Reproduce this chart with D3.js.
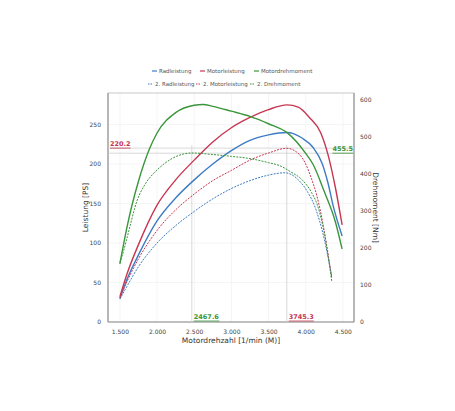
<!DOCTYPE html>
<html>
<head>
<meta charset="utf-8">
<script src="https://cdn.jsdelivr.net/npm/d3@7"></script>
<style>
  body { margin: 0; background: #fff; }
  text { font-family: "DejaVu Sans", sans-serif; }
</style>
</head>
<body>
<div class="chart"></div>
<script>
// rpm / value pairs
const radRpm   = [1500, 1600, 1750, 2000, 2250, 2500, 2750, 3000, 3250, 3500, 3750, 3950, 4100, 4220, 4300, 4370, 4490];
const radPS    = [30, 55, 85, 128, 157, 180, 200, 217, 230, 237, 240, 233, 221, 201, 176, 147, 109];
const motRpm   = [1500, 1600, 1750, 2000, 2250, 2500, 2750, 3000, 3250, 3500, 3750, 3900, 4050, 4200, 4300, 4400, 4490];
const motPS    = [32, 62, 98, 148, 180, 205, 228, 246, 259, 269, 275, 272, 259, 240, 212, 170, 123];
const drehRpm  = [1500, 1600, 1660, 1750, 1900, 2000, 2250, 2500, 2620, 2750, 3000, 3250, 3500, 3750, 4000, 4100, 4250, 4400, 4490];
const drehNm   = [157, 260, 313, 380, 468, 510, 565, 585, 587, 582, 569, 555, 535, 511, 455, 425, 352, 270, 197];
const rad2Rpm  = [1500, 1600, 1750, 2000, 2250, 2500, 2750, 3000, 3250, 3500, 3720, 3890, 4030, 4120, 4250, 4350];
const rad2PS   = [29, 46, 70, 100, 122, 140, 156, 169, 179, 186, 189, 181, 164, 147, 105, 58];
const mot2Rpm  = [1500, 1600, 1750, 2000, 2250, 2500, 2750, 3000, 3250, 3500, 3745, 3850, 3990, 4080, 4150, 4250, 4350];
const mot2PS   = [30, 52, 80, 116, 142, 162, 179, 192, 205, 214, 220, 217, 202, 181, 160, 115, 56];
const dreh2Rpm = [1500, 1550, 1600, 1730, 1850, 2000, 2200, 2468, 2750, 3000, 3250, 3500, 3650, 3800, 3950, 4080, 4160, 4250, 4350];
const dreh2Nm  = [160, 192, 230, 327, 375, 410, 441, 456, 452, 447, 441, 430, 422, 405, 384, 349, 314, 240, 111];

const xTicks = [1500, 2000, 2500, 3000, 3500, 4000, 4500];
const xTickLabels = ["1.500", "2.000", "2.500", "3.000", "3.500", "4.000", "4.500"];
const psTicks = [0, 50, 100, 150, 200, 250];
const nmTicks = [0, 100, 200, 300, 400, 500, 600];

const markRpm = [2467.6, 3745.3];
const markPS = 220.2;
const markNm = 455.5;

const blue = "#3d7cc4", red = "#c73652", green = "#3a963c";

const series = [
  {name: "Radleistung", rpm: radRpm, val: radPS, axis: "ps", color: blue, dash: null},
  {name: "Motorleistung", rpm: motRpm, val: motPS, axis: "ps", color: red, dash: null},
  {name: "Motordrehmoment", rpm: drehRpm, val: drehNm, axis: "nm", color: green, dash: null},
  {name: "2. Radleistung", rpm: rad2Rpm, val: rad2PS, axis: "ps", color: blue, dash: "2,1.2"},
  {name: "2. Motorleistung", rpm: mot2Rpm, val: mot2PS, axis: "ps", color: red, dash: "2,1.2"},
  {name: "2. Drehmoment", rpm: dreh2Rpm, val: dreh2Nm, axis: "nm", color: green, dash: "2,1.2"}
];

const W = 455, H = 411;
const pLeft = 108, pRight = 354, pTop = 93, pBottom = 322;

const svg = d3.select(".chart").append("svg")
  .attr("width", W).attr("height", H);

const x = d3.scaleLinear().domain([1340, 4650]).range([pLeft, pRight]);
const yPS = d3.scaleLinear().domain([0, 290]).range([pBottom, pTop]);
const yNm = d3.scaleLinear().domain([0, 618]).range([pBottom, pTop]);

// light grid
svg.append("g").selectAll("line").data(xTicks).join("line")
  .attr("x1", d => x(d)).attr("x2", d => x(d))
  .attr("y1", pTop).attr("y2", pBottom)
  .attr("stroke", "#f1f1f1").attr("stroke-width", 0.8);
svg.append("g").selectAll("line").data(psTicks.slice(1)).join("line")
  .attr("x1", pLeft).attr("x2", pRight)
  .attr("y1", d => yPS(d)).attr("y2", d => yPS(d))
  .attr("stroke", "#f1f1f1").attr("stroke-width", 0.8);

// frame
svg.append("rect")
  .attr("x", pLeft).attr("y", pTop)
  .attr("width", pRight - pLeft).attr("height", pBottom - pTop)
  .attr("fill", "none").attr("stroke", "#bbb").attr("stroke-width", 0.8);
svg.append("line").attr("x1", pLeft).attr("x2", pLeft).attr("y1", pTop).attr("y2", pBottom)
  .attr("stroke", "#999").attr("stroke-width", 1.2);
svg.append("line").attr("x1", pRight).attr("x2", pRight).attr("y1", pTop).attr("y2", pBottom)
  .attr("stroke", "#999").attr("stroke-width", 1.2);
svg.append("line").attr("x1", pLeft).attr("x2", pRight).attr("y1", pBottom).attr("y2", pBottom)
  .attr("stroke", "#999").attr("stroke-width", 1.2);

// marker lines
const hiY = Math.min(yPS(markPS), yNm(markNm)) - 3;
svg.append("g").selectAll("line").data(markRpm).join("line")
  .attr("x1", d => x(d)).attr("x2", d => x(d))
  .attr("y1", hiY).attr("y2", pBottom)
  .attr("stroke", "#cfcfcf").attr("stroke-width", 0.8);
svg.append("line")
  .attr("x1", pLeft).attr("x2", pRight)
  .attr("y1", yPS(markPS)).attr("y2", yPS(markPS))
  .attr("stroke", "#cfcfcf").attr("stroke-width", 0.8);
svg.append("line")
  .attr("x1", pLeft).attr("x2", pRight)
  .attr("y1", yNm(markNm)).attr("y2", yNm(markNm))
  .attr("stroke", "#cfcfcf").attr("stroke-width", 0.8);

// axes
const fmtTick = (d, i) => xTickLabels[i];
const xAxis = svg.append("g")
  .attr("transform", `translate(0,${pBottom})`)
  .call(d3.axisBottom(x).tickValues(xTicks).tickFormat(fmtTick).tickSize(0).tickPadding(8));
const lAxis = svg.append("g")
  .attr("transform", `translate(${pLeft},0)`)
  .call(d3.axisLeft(yPS).tickValues(psTicks).tickSize(0).tickPadding(7));
const rAxis = svg.append("g")
  .attr("transform", `translate(${pRight},0)`)
  .call(d3.axisRight(yNm).tickValues(nmTicks).tickSize(0).tickPadding(6));
[xAxis, lAxis, rAxis].forEach(a => {
  a.select(".domain").remove();
  a.attr("color", "#444");
  a.selectAll("text").attr("font-size", 6).attr("fill", "#444")
    .attr("font-family", "DejaVu Sans, sans-serif");
});

// curves
const line = d3.line().curve(d3.curveMonotoneX);
series.forEach(s => {
  const yS = s.axis === "ps" ? yPS : yNm;
  const pts = s.rpm.map((r, i) => [x(r), yS(s.val[i])]);
  svg.append("path")
    .attr("d", line(pts))
    .attr("fill", "none")
    .attr("stroke", s.color)
    .attr("stroke-width", s.dash ? 1 : 1.4)
    .attr("stroke-dasharray", s.dash);
});

// marker labels
function markLabel(txt, tx, ty, color, anchor) {
  const t = svg.append("text")
    .attr("x", tx).attr("y", ty)
    .attr("text-anchor", anchor)
    .attr("font-size", 6.5).attr("font-weight", "bold")
    .attr("fill", color).text(txt);
  const bb = t.node().getBBox();
  svg.append("line")
    .attr("x1", bb.x).attr("x2", bb.x + bb.width)
    .attr("y1", ty + 2).attr("y2", ty + 2)
    .attr("stroke", color).attr("stroke-width", 0.8);
}
markLabel("220.2", pLeft + 2, yPS(markPS) - 2, red, "start");
markLabel("455.5", pRight - 1, yNm(markNm) - 2, green, "end");
markLabel("2467.6", x(markRpm[0]) + 2, pBottom - 3, green, "start");
markLabel("3745.3", x(markRpm[1]) + 2, pBottom - 3, red, "start");

// axis titles
svg.append("text")
  .attr("x", (pLeft + pRight) / 2).attr("y", 343)
  .attr("text-anchor", "middle").attr("font-size", 7.5).attr("fill", "#333")
  .text("Motordrehzahl [1/min (M)]");
svg.append("text")
  .attr("transform", `translate(88,${(pTop + pBottom) / 2}) rotate(-90)`)
  .attr("text-anchor", "middle").attr("font-size", 7.5).attr("fill", "#333")
  .text("Leistung [PS]");
svg.append("text")
  .attr("transform", `translate(373,${(pTop + pBottom) / 2}) rotate(90)`)
  .attr("text-anchor", "middle").attr("font-size", 7.5).attr("fill", "#333")
  .text("Drehmoment [Nm]");

// legend
const legX = [152, 200, 254];
const legY = [73, 86];
series.forEach((s, i) => {
  const col = i % 3, row = Math.floor(i / 3);
  const lx = row === 0 ? legX[col] : legX[col] - 4;
  const ly = legY[row];
  svg.append("line")
    .attr("x1", lx).attr("x2", lx + 5)
    .attr("y1", ly - 2).attr("y2", ly - 2)
    .attr("stroke", s.color).attr("stroke-width", 1.2)
    .attr("stroke-dasharray", s.dash ? "1.5,1" : null);
  svg.append("text")
    .attr("x", lx + 7).attr("y", ly)
    .attr("font-size", 5.5).attr("fill", "#555")
    .text(s.name);
});
</script>
</body>
</html>
